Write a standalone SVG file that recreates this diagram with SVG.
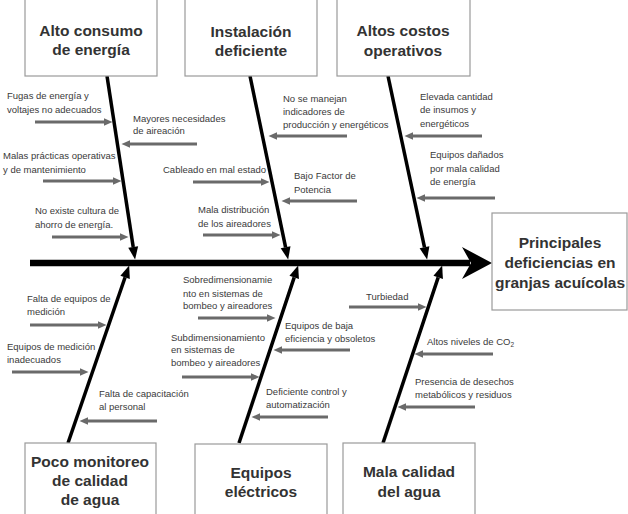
<svg xmlns="http://www.w3.org/2000/svg" width="628" height="514" viewBox="0 0 628 514">
<style>
.box{fill:#fff;stroke:#9a9a9a;stroke-width:1.2}
.h{font-family:"Liberation Sans",Arial,sans-serif;font-weight:bold;font-size:15.5px;fill:#333;text-anchor:middle}
.t{font-family:"Liberation Sans",Arial,sans-serif;font-size:9.5px;fill:#3a3a3a}
.bone{stroke:#000;stroke-width:3.5;fill:none}
.sub{stroke:#6a6a6a;stroke-width:3;fill:none}
</style>
<defs>
<marker id="mb" markerUnits="userSpaceOnUse" markerWidth="14" markerHeight="12" viewBox="0 -6 13 12" refX="0" refY="0" orient="auto">
<path d="M0,-5 L12.5,0 L0,5 z" fill="#000"/>
</marker>
<marker id="mg" markerUnits="userSpaceOnUse" markerWidth="10" markerHeight="9" viewBox="0 -4.5 9 9" refX="0" refY="0" orient="auto">
<path d="M0,-3.8 L8.5,0 L0,3.8 z" fill="#6a6a6a"/>
</marker>
</defs>

<g id="connectors">
<line x1="30" y1="263" x2="470" y2="263" stroke="#000" stroke-width="6.5"/>
<path d="M492,263 L462,247 L471,263 L462,279 z" fill="#000"/>
<line class="bone" x1="107" y1="76" x2="133.2" y2="247.1" marker-end="url(#mb)"/>
<line class="bone" x1="250" y1="76" x2="285.6" y2="247.3" marker-end="url(#mb)"/>
<line class="bone" x1="388" y1="76" x2="424.5" y2="247.3" marker-end="url(#mb)"/>
<line class="bone" x1="68" y1="443" x2="125.1" y2="277.3" marker-end="url(#mb)"/>
<line class="bone" x1="239" y1="443" x2="294.2" y2="277.4" marker-end="url(#mb)"/>
<line class="bone" x1="383" y1="443" x2="438.2" y2="277.4" marker-end="url(#mb)"/>

<line class="sub" x1="35" y1="122" x2="104" y2="122" marker-end="url(#mg)"/>
<line class="sub" x1="197" y1="144" x2="130" y2="144" marker-end="url(#mg)"/>
<line class="sub" x1="43" y1="181" x2="113" y2="181" marker-end="url(#mg)"/>
<line class="sub" x1="52" y1="237" x2="120" y2="237" marker-end="url(#mg)"/>

<line class="sub" x1="347" y1="136" x2="277" y2="136" marker-end="url(#mg)"/>
<line class="sub" x1="193" y1="182" x2="261" y2="182" marker-end="url(#mg)"/>
<line class="sub" x1="357" y1="201" x2="290" y2="201" marker-end="url(#mg)"/>
<line class="sub" x1="203" y1="235" x2="272" y2="235" marker-end="url(#mg)"/>

<line class="sub" x1="482" y1="136" x2="413" y2="136" marker-end="url(#mg)"/>
<line class="sub" x1="495" y1="198" x2="425" y2="198" marker-end="url(#mg)"/>

<line class="sub" x1="30" y1="325" x2="98" y2="325" marker-end="url(#mg)"/>
<line class="sub" x1="12" y1="372" x2="80" y2="372" marker-end="url(#mg)"/>
<line class="sub" x1="157" y1="421" x2="88" y2="421" marker-end="url(#mg)"/>

<line class="sub" x1="198" y1="318" x2="267" y2="318" marker-end="url(#mg)"/>
<line class="sub" x1="182" y1="377" x2="251" y2="377" marker-end="url(#mg)"/>
<line class="sub" x1="350" y1="350" x2="282" y2="350" marker-end="url(#mg)"/>
<line class="sub" x1="328" y1="417" x2="260" y2="417" marker-end="url(#mg)"/>

<line class="sub" x1="349" y1="307" x2="418" y2="307" marker-end="url(#mg)"/>
<line class="sub" x1="493" y1="354" x2="423" y2="354" marker-end="url(#mg)"/>
<line class="sub" x1="475" y1="407" x2="406" y2="407" marker-end="url(#mg)"/>
</g>

<g id="alto-consumo">
<rect class="box" x="25" y="-2" width="132" height="78"/>
<text class="h" x="91" y="36">Alto consumo</text>
<text class="h" x="91" y="55">de energía</text>
</g>
<g id="instalacion">
<rect class="box" x="185" y="-2" width="132" height="78"/>
<text class="h" x="251" y="37">Instalación</text>
<text class="h" x="251" y="56">deficiente</text>
</g>
<g id="altos-costos">
<rect class="box" x="337" y="-2" width="133" height="78"/>
<text class="h" x="403" y="36">Altos costos</text>
<text class="h" x="403" y="56">operativos</text>
</g>
<g id="principales">
<rect class="box" x="492" y="213" width="135" height="97"/>
<text class="h" x="560" y="248">Principales</text>
<text class="h" x="560" y="268">deficiencias en</text>
<text class="h" x="560" y="288">granjas acuícolas</text>
</g>
<g id="poco-monitoreo">
<rect class="box" x="25" y="443" width="131" height="80"/>
<text class="h" x="90" y="467">Poco monitoreo</text>
<text class="h" x="90" y="486">de calidad</text>
<text class="h" x="90" y="505">de agua</text>
</g>
<g id="equipos">
<rect class="box" x="195" y="444" width="132" height="80"/>
<text class="h" x="261" y="478">Equipos</text>
<text class="h" x="261" y="497">eléctricos</text>
</g>
<g id="mala-calidad">
<rect class="box" x="343" y="443" width="132" height="80"/>
<text class="h" x="409" y="477">Mala calidad</text>
<text class="h" x="409" y="497">del agua</text>
</g>

<g id="labels">
<text class="t" x="7" y="99">Fugas de energía y</text>
<text class="t" x="7" y="113">voltajes no adecuados</text>
<text class="t" x="133" y="122">Mayores necesidades</text>
<text class="t" x="133" y="134">de aireación</text>
<text class="t" x="3" y="159">Malas prácticas operativas</text>
<text class="t" x="3" y="173">y de mantenimiento</text>
<text class="t" x="35" y="214">No existe cultura de</text>
<text class="t" x="35" y="228">ahorro de energía.</text>

<text class="t" x="283" y="102">No se manejan</text>
<text class="t" x="283" y="115">indicadores de</text>
<text class="t" x="283" y="128">producción y energéticos</text>
<text class="t" x="163" y="173">Cableado en mal estado</text>
<text class="t" x="294" y="179">Bajo Factor de</text>
<text class="t" x="294" y="193">Potencia</text>
<text class="t" x="198" y="213">Mala distribución</text>
<text class="t" x="198" y="227">de los aireadores</text>

<text class="t" x="420" y="100">Elevada cantidad</text>
<text class="t" x="420" y="113">de insumos y</text>
<text class="t" x="420" y="127">energéticos</text>
<text class="t" x="430" y="158">Equipos dañados</text>
<text class="t" x="430" y="172">por mala calidad</text>
<text class="t" x="430" y="185">de energía</text>

<text class="t" x="27" y="302">Falta de equipos de</text>
<text class="t" x="27" y="315">medición</text>
<text class="t" x="7" y="350">Equipos de medición</text>
<text class="t" x="7" y="363">inadecuados</text>
<text class="t" x="99" y="397">Falta de capacitación</text>
<text class="t" x="99" y="410">al personal</text>

<text class="t" x="183" y="283">Sobredimensionamie</text>
<text class="t" x="183" y="297">nto en sistemas de</text>
<text class="t" x="183" y="309">bombeo y aireadores</text>
<text class="t" x="171" y="341">Subdimensionamiento</text>
<text class="t" x="171" y="353">en sistemas de</text>
<text class="t" x="171" y="366">bombeo y aireadores</text>
<text class="t" x="285" y="329">Equipos de baja</text>
<text class="t" x="285" y="342">eficiencia y obsoletos</text>
<text class="t" x="266" y="395">Deficiente control y</text>
<text class="t" x="266" y="408">automatización</text>

<text class="t" x="366" y="300">Turbiedad</text>
<text class="t" x="427" y="345">Altos niveles de CO<tspan font-size="6.5" dy="2">2</tspan></text>
<text class="t" x="415" y="385">Presencia de desechos</text>
<text class="t" x="415" y="398">metabólicos y residuos</text>
</g>
</svg>
